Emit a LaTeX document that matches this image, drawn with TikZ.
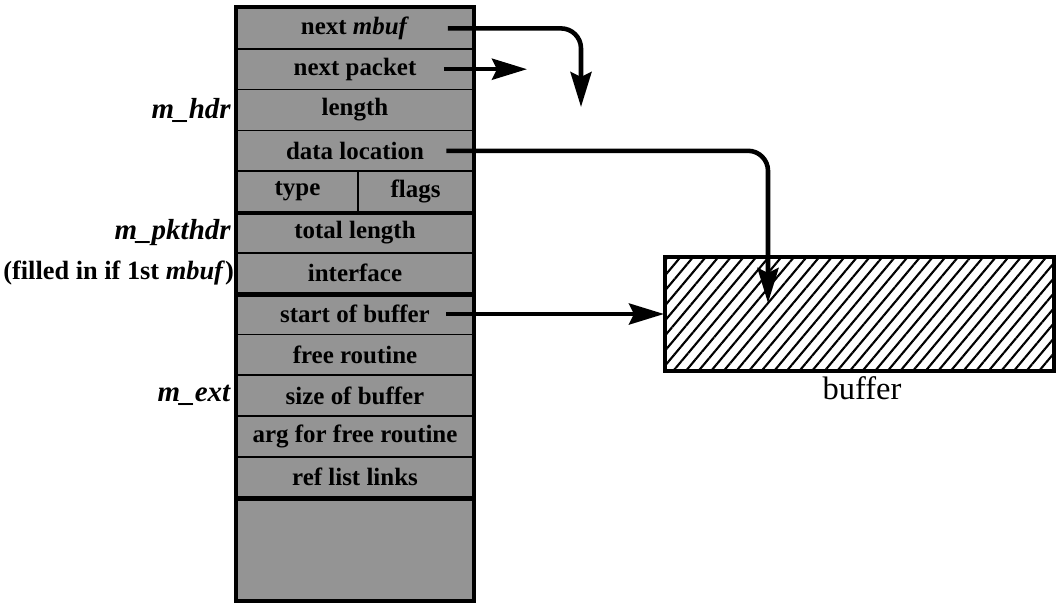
\documentclass[tikz,border=0pt]{standalone}
\usepackage{fontspec}
\setmainfont{Liberation Serif}
\usetikzlibrary{arrows.meta,patterns.meta}

\begin{document}
\begin{tikzpicture}[x=0.02cm,y=-0.02cm,
    every node/.style={font=\fontsize{14.2}{16}\selectfont\bfseries},
    cell/.style={draw,line width=0.9pt,fill=black!42,minimum width=4.72cm,minimum height=0.816cm,inner sep=0pt},
    side/.style={anchor=east,inner sep=1pt,font=\fontsize{16.5}{18}\selectfont\bfseries},
    frame/.style={line width=2.4pt},
    ptr/.style={line width=2.6pt,rounded corners=0.4cm,-{Stealth[length=0.7cm,width=0.42cm,inset=0.1cm]}},
  ]
  \useasboundingbox (0,0) rectangle (1057,602);
  \foreach \y/\nm/\txt in {28.4/nextmbuf/{next \textit{mbuf}}, 69.2/nextpkt/next packet,
      110/len/length, 150.8/dataloc/data location, 232.4/totlen/total length,
      273.2/ifc/interface, 314/startbuf/start of buffer, 354.8/freert/free routine,
      395.6/bufsize/size of buffer, 436.4/freearg/arg for free routine,
      477.2/reflist/ref list links} {
    \node[cell] (\nm) at (355,\y) {\txt};
  }
  \node[cell,minimum width=2.42cm] (mtype) at (297.5,191.6) {type};
  \node[cell,minimum width=2.3cm] (mflags) at (415.5,191.6) {flags};
  \node[cell,minimum height=2.04cm] (spare) at (355,549) {};
  \draw[frame] (nextmbuf.north west) rectangle (spare.south east);
  \draw[frame] (mtype.south west) -- (mflags.south east);
  \draw[frame] (ifc.south west) -- (ifc.south east);
  \draw[frame] (reflist.south west) -- (reflist.south east);

  \node[side] (hdrlab) at (233,110) {\textit{m\_hdr}};
  \node[side] (pkthdrlab) at (233,232.4) {\textit{m\_pkthdr}};
  \node[side,font=\fontsize{15}{17}\selectfont\bfseries] (filledlab) at (236,273.2) {(filled in if 1st \textit{mbuf})};
  \node[side] (extlab) at (233,395.6) {\textit{m\_ext}};

  \node[draw,line width=2.6pt,pattern={Lines[angle=50,distance=5.5pt,line width=1.2pt]},
    minimum width=7.78cm,minimum height=2.28cm] (buf) at (859.5,314) {};
  \node[font=\fontsize{18.5}{20}\selectfont] (buflab) at (862,388) {buffer};

  \coordinate (nmtip) at (581,107);
  \coordinate (nptip) at (527,69.2);
  \coordinate (dltip) at (768,303);
  \draw[ptr] ([xshift=-0.52cm]nextmbuf.east) -- (nextmbuf.east -| nmtip) -- (nmtip);
  \draw[ptr] ([xshift=-0.6cm]nextpkt.east) -- (nptip);
  \draw[ptr] ([xshift=-0.55cm]dataloc.east) -- (dataloc.east -| dltip) -- (dltip);
  \draw[ptr] ([xshift=-0.55cm]startbuf.east) -- (buf.west);
\end{tikzpicture}
\end{document}
